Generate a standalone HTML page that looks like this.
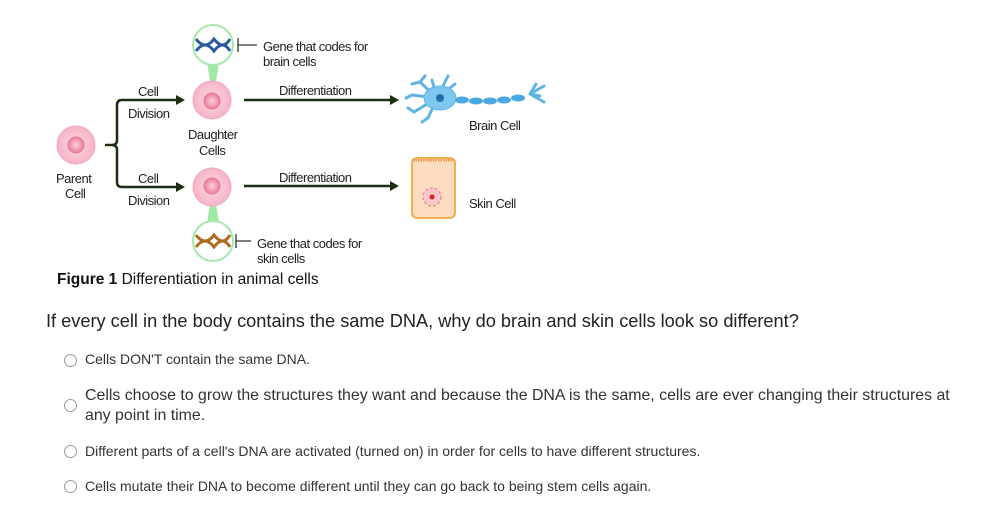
<!DOCTYPE html>
<html><head><style>
body{margin:0;width:988px;height:510px;background:#fff;font-family:"Liberation Sans",Arial,sans-serif;position:relative;overflow:hidden}
.t{position:absolute;color:#222;white-space:nowrap}
.s{font-size:13px;letter-spacing:-0.5px}
.r{position:absolute;width:11px;height:11px;border:1px solid #999;border-radius:50%;background:#fff}
.o{position:absolute;font-size:14px;color:#333}
</style></head><body>
<svg width="988" height="300" style="position:absolute;left:0;top:0">
<defs>
<radialGradient id="cg"><stop offset="0" stop-color="#fbd8e0"/><stop offset="1" stop-color="#f6b4c6"/></radialGradient>
<radialGradient id="ng"><stop offset="0" stop-color="#fbd0dc"/><stop offset="1" stop-color="#ee7c9c"/></radialGradient>
</defs>
<circle cx="76" cy="145" r="19" fill="url(#cg)" stroke="#f0a8ba"/>
<circle cx="76" cy="145" r="8" fill="url(#ng)" stroke="#e07a98"/>
<path d="M105 145 H112 Q117 145 117 140 V105 Q117 100 122 100 H176" fill="none" stroke="#1b2e12" stroke-width="2.5"/>
<path d="M112 145 Q117 145 117 150 V182 Q117 187 122 187 H176" fill="none" stroke="#1b2e12" stroke-width="2.5"/>
<polygon points="176,95 185,100 176,105" fill="#1b2e12"/>
<polygon points="176,182 185,187 176,192" fill="#1b2e12"/>
<polygon points="207,62 219,62 215,88 211,88" fill="#9fe8a6"/>
<polygon points="207,223 219,223 215,197 211,197" fill="#9fe8a6"/>
<circle cx="212" cy="100" r="19" fill="url(#cg)" stroke="#f0a8ba"/>
<circle cx="212" cy="101" r="8" fill="url(#ng)" stroke="#e07a98"/>
<circle cx="212" cy="187" r="19" fill="url(#cg)" stroke="#f0a8ba"/>
<circle cx="212" cy="186" r="8" fill="url(#ng)" stroke="#e07a98"/>
<circle cx="213" cy="45" r="20" fill="#fff" stroke="#a5e8ac" stroke-width="2"/>
<circle cx="213" cy="241" r="20" fill="#fff" stroke="#a5e8ac" stroke-width="2"/>
<g stroke="#2a5aa0" stroke-width="3" fill="none"><path d="M196 39 Q205 51 214 39 Q223 51 230 39"/><path d="M196 51 Q205 39 214 51 Q223 39 230 51"/></g>
<g stroke="#b06a20" stroke-width="3" fill="none"><path d="M196 235 Q205 247 214 235 Q223 247 230 235"/><path d="M196 247 Q205 235 214 247 Q223 235 230 247"/></g>
<g stroke="#333" stroke-width="1.3"><path d="M238 38 V52 M238 45 H257"/><path d="M236 234 V248 M236 241 H251"/></g>
<line x1="244" y1="100" x2="392" y2="100" stroke="#1b2e12" stroke-width="2.5"/>
<polygon points="390,95 399,100 390,105" fill="#1b2e12"/>
<line x1="244" y1="186" x2="392" y2="186" stroke="#1b2e12" stroke-width="2.5"/>
<polygon points="390,181 399,186 390,191" fill="#1b2e12"/>
<g stroke="#5fb4e4" stroke-width="3" fill="none" stroke-linecap="round">
<path d="M437 98 L420 82 M437 98 L412 95 M437 98 L414 112 M437 98 L428 118 M437 98 L445 82 M437 98 L432 80 M437 98 L455 84 M420 82 L412 84 M420 82 L425 76 M414 112 L408 108 M428 118 L422 122 M445 82 L448 76 M412 95 L406 98"/>
<path d="M530 94 L544 86 M530 94 L544 102 M530 94 L540 96 M530 94 L536 84"/>
</g>
<ellipse cx="440" cy="98" rx="16" ry="12" fill="#7ec8ef" stroke="#5fb4e4"/>
<circle cx="440" cy="98" r="4" fill="#1f6fa8"/>
<g fill="#4aa8e0"><ellipse cx="462" cy="100" rx="7" ry="3.5"/><ellipse cx="476" cy="101" rx="7" ry="3.5"/><ellipse cx="490" cy="101" rx="7" ry="3.5"/><ellipse cx="504" cy="100" rx="7" ry="3.5"/><ellipse cx="518" cy="98" rx="7" ry="3.5"/></g>
<rect x="412" y="158" width="43" height="60" rx="5" fill="#fbdcc0" stroke="#f0b050" stroke-width="2"/>
<line x1="413" y1="160" x2="454" y2="160" stroke="#e89a40" stroke-width="3" stroke-dasharray="1.5 1"/>
<circle cx="432" cy="197" r="9" fill="#f8c8c8" stroke="#e87878" stroke-dasharray="3 2"/>
<circle cx="432" cy="197" r="2.5" fill="#e02020"/>
</svg>
<div class="t s" style="left:263px;top:39px">Gene that codes for</div>
<div class="t s" style="left:263px;top:54px">brain cells</div>
<div class="t s" style="left:138px;top:84px">Cell</div>
<div class="t s" style="left:128px;top:106px">Division</div>
<div class="t s" style="left:188px;top:127px">Daughter</div>
<div class="t s" style="left:199px;top:143px">Cells</div>
<div class="t s" style="left:56px;top:171px">Parent</div>
<div class="t s" style="left:65px;top:186px">Cell</div>
<div class="t s" style="left:138px;top:171px">Cell</div>
<div class="t s" style="left:128px;top:193px">Division</div>
<div class="t s" style="left:279px;top:83px">Differentiation</div>
<div class="t s" style="left:279px;top:170px">Differentiation</div>
<div class="t s" style="left:469px;top:118px">Brain Cell</div>
<div class="t s" style="left:469px;top:196px">Skin Cell</div>
<div class="t s" style="left:257px;top:236px">Gene that codes for</div>
<div class="t s" style="left:257px;top:251px">skin cells</div>
<div class="t" style="left:57px;top:271px;font-size:15.5px;color:#111"><b>Figure 1</b> Differentiation in animal cells</div>
<div class="t" style="left:46px;top:311px;font-size:18.2px;color:#222">If every cell in the body contains the same DNA, why do brain and skin cells look so different?</div>
<div class="r" style="left:64px;top:354px"></div>
<div class="o" style="left:85px;top:351px">Cells DON'T contain the same DNA.</div>
<div class="r" style="left:64px;top:399px"></div>
<div class="o" style="left:85px;top:386px;font-size:15.9px;line-height:20px;width:900px">Cells choose to grow the structures they want and because the DNA is the same, cells are ever changing their structures at<br>any point in time.</div>
<div class="r" style="left:64px;top:445px"></div>
<div class="o" style="left:85px;top:443px">Different parts of a cell's DNA are activated (turned on) in order for cells to have different structures.</div>
<div class="r" style="left:64px;top:480px"></div>
<div class="o" style="left:85px;top:478px">Cells mutate their DNA to become different until they can go back to being stem cells again.</div>
</body></html>
